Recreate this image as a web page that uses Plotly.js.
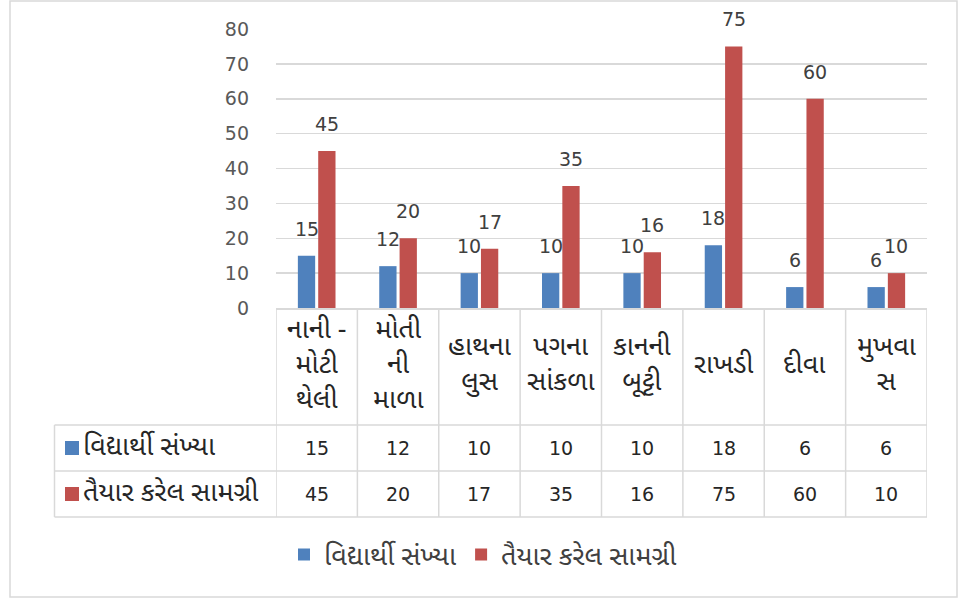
<!DOCTYPE html>
<html>
<head>
<meta charset="utf-8">
<script src="https://cdn.plot.ly/plotly-3.0.1.min.js"></script>
<style>
html,body{margin:0;padding:0;background:#fff;}
#chart{width:971px;height:599px;}
</style>
</head>
<body>
<div id="chart"></div>
<script>
// ---- data ----
var categories = ["નાની -<br>મોટી<br>થેલી", "મોતી<br>ની<br>માળા", "હાથના<br>લુસ", "પગના<br>સાંકળા", "કાનની<br>બૂટ્ટી", "રાખડી", "દીવા", "મુખવા<br>સ"];
var seriesNames = ["વિદ્યાર્થી સંખ્યા", "તૈયાર કરેલ સામગ્રી"];
var students = [15, 12, 10, 10, 10, 18, 6, 6];
var materials = [45, 20, 17, 35, 16, 75, 60, 10];
var yTicks = [0, 10, 20, 30, 40, 50, 60, 70, 80];

// ---- layout helpers (pixels -> paper) ----
var W = 971, H = 599;
function px(x){ return x / W; }
function py(y){ return (H - y) / H; }

var colors = ["#4F81BD", "#C0504D"];
var numFont = "DejaVu Sans, Liberation Sans, sans-serif";
var gujFont = "Noto Sans Gujarati, Lohit Gujarati, Shruti, Noto Sans, sans-serif";
var gujSize = 27;
var idx = categories.map(function(_, i){ return i; });
var series = [students, materials];

var traces = series.map(function(vals, s){
  return {
    type: "bar",
    x: idx,
    y: vals,
    name: seriesNames[s],
    marker: {color: colors[s]},
    hoverinfo: "y"
  };
});

var annotations = [];
var shapes = [];
var gridColor = "#D9D9D9";

// data labels above bars
series.forEach(function(vals, s){
  vals.forEach(function(v, i){
    annotations.push({
      x: i + (s === 0 ? -0.125 : 0.125), y: v, xref: "x", yref: "y",
      text: String(v), showarrow: false, yanchor: "bottom", yshift: 14,
      font: {family: numFont, size: 19, color: "#404040"}
    });
  });
});

// category labels in table header row
categories.forEach(function(c, i){
  annotations.push({
    x: i, y: py(366), xref: "x", yref: "paper", text: c, showarrow: false,
    yanchor: "middle", xanchor: "center",
    font: {family: gujFont, size: gujSize, color: "#262626"}
  });
});

// table values
var rowY = [448, 494];
series.forEach(function(vals, s){
  vals.forEach(function(v, i){
    annotations.push({
      x: i, y: py(rowY[s]), xref: "x", yref: "paper", text: String(v),
      showarrow: false, yanchor: "middle",
      font: {family: numFont, size: 19, color: "#262626"}
    });
  });
  // row header: color key + name
  shapes.push({type: "rect", xref: "paper", yref: "paper",
    x0: px(65), x1: px(79), y0: py(rowY[s] - 7), y1: py(rowY[s] + 7),
    fillcolor: colors[s], line: {width: 0}});
  annotations.push({
    x: px(81), y: py(rowY[s]), xref: "paper", yref: "paper", text: seriesNames[s],
    showarrow: false, xanchor: "left", yanchor: "middle",
    font: {family: gujFont, size: gujSize, color: "#262626"}
  });
});

// table grid: vertical lines
for (var k = 0; k <= categories.length; k++) {
  shapes.push({type: "line", xref: "x", yref: "paper",
    x0: k - 0.5, x1: k - 0.5, y0: py(308), y1: py(517),
    line: {color: gridColor, width: 1.5}});
}
// left edge of row-header column
shapes.push({type: "line", xref: "paper", yref: "paper",
  x0: px(54.5), x1: px(54.5), y0: py(425), y1: py(517),
  line: {color: gridColor, width: 1.5}});
// horizontal lines
[425, 471, 517].forEach(function(yy){
  shapes.push({type: "line", xref: "paper", yref: "paper",
    x0: px(54.5), x1: px(927), y0: py(yy), y1: py(yy),
    line: {color: gridColor, width: 1.5}});
});
// outer chart border
shapes.push({type: "rect", xref: "paper", yref: "paper",
  x0: px(10), x1: px(957), y0: py(597), y1: py(1),
  line: {color: gridColor, width: 1.5}, fillcolor: "rgba(0,0,0,0)"});

var layout = {
  width: W, height: H,
  margin: {l: 0, r: 0, t: 0, b: 0},
  paper_bgcolor: "#fff", plot_bgcolor: "#fff",
  barmode: "group", bargap: 0.5, bargroupgap: 0.15,
  xaxis: {
    domain: [px(276), px(927)], range: [-0.5, categories.length - 0.5],
    showticklabels: false, showgrid: false, zeroline: false,
    showline: true, linecolor: gridColor, linewidth: 1.5, ticks: "", fixedrange: true
  },
  yaxis: {
    domain: [py(308), py(29)], range: [0, 80], tickvals: yTicks,
    showgrid: true, gridcolor: gridColor, gridwidth: 1.5, zeroline: false,
    showline: false, ticks: "", ticklabelstandoff: 26,
    tickfont: {family: numFont, size: 19, color: "#595959"}, fixedrange: true
  },
  showlegend: true,
  legend: {
    orientation: "h", x: px(483), xanchor: "center", y: py(555), yanchor: "middle",
    font: {family: gujFont, size: gujSize, color: "#404040"},
    itemwidth: 30, traceorder: "normal"
  },
  annotations: annotations,
  shapes: shapes
};

Plotly.newPlot("chart", traces, layout, {displayModeBar: false, staticPlot: true});
</script>
</body>
</html>
